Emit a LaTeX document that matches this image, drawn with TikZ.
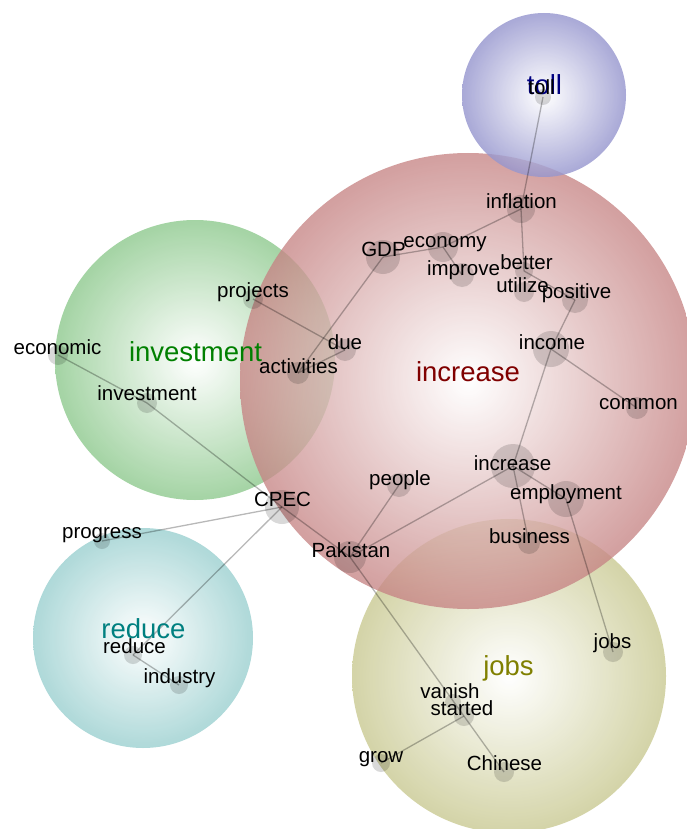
\documentclass[tikz,border=0pt]{standalone}
\usepackage{fontspec}
\setmainfont{Liberation Sans}
\definecolor{cred}{RGB}{198,132,132}
\definecolor{cgreen}{RGB}{148,204,148}
\definecolor{cblue}{RGB}{150,150,206}
\definecolor{cteal}{RGB}{160,210,210}
\definecolor{colive}{RGB}{204,204,152}
\definecolor{lred}{RGB}{128,0,0}
\definecolor{lgreen}{RGB}{0,128,0}
\definecolor{lblue}{RGB}{0,0,128}
\definecolor{lteal}{RGB}{0,128,128}
\definecolor{lolive}{RGB}{128,128,0}
\tikzset{
  bigc/.style={circle,inner sep=0pt,minimum size=#1,fill opacity=0.8},
  dotc/.style={circle,inner sep=0pt,minimum size=#1,fill=black,fill opacity=0.15,draw=none},
  word/.style={anchor=base,inner sep=0pt,font=\fontsize{20.5}{24}\selectfont,text=black},
  biglab/.style={anchor=base,inner sep=0pt,font=\fontsize{27.5}{30}\selectfont},
  edge/.style={draw=black,draw opacity=0.28,line width=1.3pt}
}
\begin{document}
\begin{tikzpicture}[x=1pt,y=-1pt]
\useasboundingbox (0,0) rectangle (686,829);
% big circles
\shade[inner color=white,outer color=cgreen,fill opacity=0.85] (195,360) circle (140pt);
\shade[inner color=white,outer color=cteal,fill opacity=0.85] (143,638) circle (110pt);
\shade[inner color=white,outer color=colive,fill opacity=0.85] (509,676) circle (157pt);
\shade[inner color=white,outer color=cred,fill opacity=0.78] (468,381) circle (228pt);
\shade[inner color=white,outer color=cblue,fill opacity=0.82] (544,95) circle (82pt);
% dots
\node[dotc=16pt] (dtoll) at (543,97) {};
\node[dotc=28pt] (dinflation) at (521,209) {};
\node[dotc=30pt] (deconomy) at (443,247) {};
\node[dotc=34pt] (dgdp) at (383,257) {};
\node[dotc=24pt] (dimprove) at (462,275) {};
\node[dotc=18pt] (dbetter) at (524,271) {};
\node[dotc=20pt] (dutilize) at (524,292) {};
\node[dotc=26pt] (dpositive) at (575,300) {};
\node[dotc=36pt] (dincome) at (551,349) {};
\node[dotc=22pt] (dcommon) at (637,408) {};
\node[dotc=22pt] (ddue) at (345,350) {};
\node[dotc=22pt] (dactivities) at (298,373) {};
\node[dotc=20pt] (dprojects) at (253,299) {};
\node[dotc=20pt] (deconomic) at (58,355) {};
\node[dotc=20pt] (dinvestment) at (147,403) {};
\node[dotc=34pt] (dcpec) at (282,507) {};
\node[dotc=24pt] (dpeople) at (399,485) {};
\node[dotc=44pt] (dincrease) at (513,466) {};
\node[dotc=36pt] (demployment) at (566,499) {};
\node[dotc=22pt] (dbusiness) at (529,543) {};
\node[dotc=32pt] (dpakistan) at (350,557) {};
\node[dotc=16pt] (dprogress) at (102,541) {};
\node[dotc=18pt] (dreduce) at (133,655) {};
\node[dotc=18pt] (dindustry) at (179,685) {};
\node[dotc=20pt] (djobs) at (613,652) {};
\node[dotc=16pt] (dvanish) at (453,702) {};
\node[dotc=20pt] (dstarted) at (464,716) {};
\node[dotc=18pt] (dgrow) at (381,763) {};
\node[dotc=20pt] (dchinese) at (504,772) {};
% edges
\draw[edge] (dtoll.center) -- (dinflation.center);
\draw[edge] (dinflation.center) -- (deconomy.center);
\draw[edge] (dinflation.center) -- (dbetter.center);
\draw[edge] (dbetter.center) -- (dpositive.center);
\draw[edge] (deconomy.center) -- (dgdp.center);
\draw[edge] (deconomy.center) -- (dimprove.center);
\draw[edge] (dgdp.center) -- (dactivities.center);
\draw[edge] (dprojects.center) -- (ddue.center);
\draw[edge] (ddue.center) -- (dactivities.center);
\draw[edge] (dpositive.center) -- (dincome.center);
\draw[edge] (dincome.center) -- (dcommon.center);
\draw[edge] (dincome.center) -- (dincrease.center);
\draw[edge] (dincrease.center) -- (dpakistan.center);
\draw[edge] (dincrease.center) -- (demployment.center);
\draw[edge] (dincrease.center) -- (dbusiness.center);
\draw[edge] (demployment.center) -- (djobs.center);
\draw[edge] (dpeople.center) -- (dpakistan.center);
\draw[edge] (dcpec.center) -- (dpakistan.center);
\draw[edge] (dpakistan.center) -- (dchinese.center);
\draw[edge] (dstarted.center) -- (dgrow.center);
\draw[edge] (deconomic.center) -- (dinvestment.center);
\draw[edge] (dinvestment.center) -- (dcpec.center);
\draw[edge] (dcpec.center) -- (dprogress.center);
\draw[edge] (dcpec.center) -- (dreduce.center);
\draw[edge] (dreduce.center) -- (dindustry.center);
% big labels
\node[biglab,text=lblue] (ltoll) at (544.5,95) {toll};
\node[biglab,text=lred] (lincrease) at (468,381) {increase};
\node[biglab,text=lgreen] (linvestment) at (195.5,361) {investment};
\node[biglab,text=lteal] (lreduce) at (143.5,638) {reduce};
\node[biglab,text=lolive] (ljobs) at (508.5,675) {jobs};
% words
\node[word] (wtoll) at (541.5,95) {toll};
\node[word] (winflation) at (521.5,208) {inflation};
\node[word] (wgdp) at (383.5,256) {GDP};
\node[word] (weconomy) at (445,247) {economy};
\node[word] (wimprove) at (463.5,275) {improve};
\node[word] (wbetter) at (526.5,269) {better};
\node[word] (wutilize) at (522.5,292) {utilize};
\node[word] (wpositive) at (576.5,298) {positive};
\node[word] (wincome) at (552,349) {income};
\node[word] (wcommon) at (638.5,409) {common};
\node[word] (wdue) at (345,349) {due};
\node[word] (wactivities) at (298.5,373) {activities};
\node[word] (wprojects) at (253,297) {projects};
\node[word] (weconomic) at (57.5,354) {economic};
\node[word] (winvestment) at (147,400) {investment};
\node[word] (wcpec) at (282.5,506) {CPEC};
\node[word] (wpeople) at (400,485) {people};
\node[word] (wincrease) at (512.5,470) {increase};
\node[word] (wemployment) at (566,499) {employment};
\node[word] (wbusiness) at (529.5,543) {business};
\node[word] (wpakistan) at (351,557) {Pakistan};
\node[word] (wprogress) at (102,538) {progress};
\node[word] (wreduce) at (134.5,653) {reduce};
\node[word] (windustry) at (179.5,683) {industry};
\node[word] (wjobs) at (612.5,648) {jobs};
\node[word] (wvanish) at (450,698) {vanish};
\node[word] (wstarted) at (462,715) {started};
\node[word] (wgrow) at (381,762) {grow};
\node[word] (wchinese) at (504.5,770) {Chinese};
\end{tikzpicture}
\end{document}
